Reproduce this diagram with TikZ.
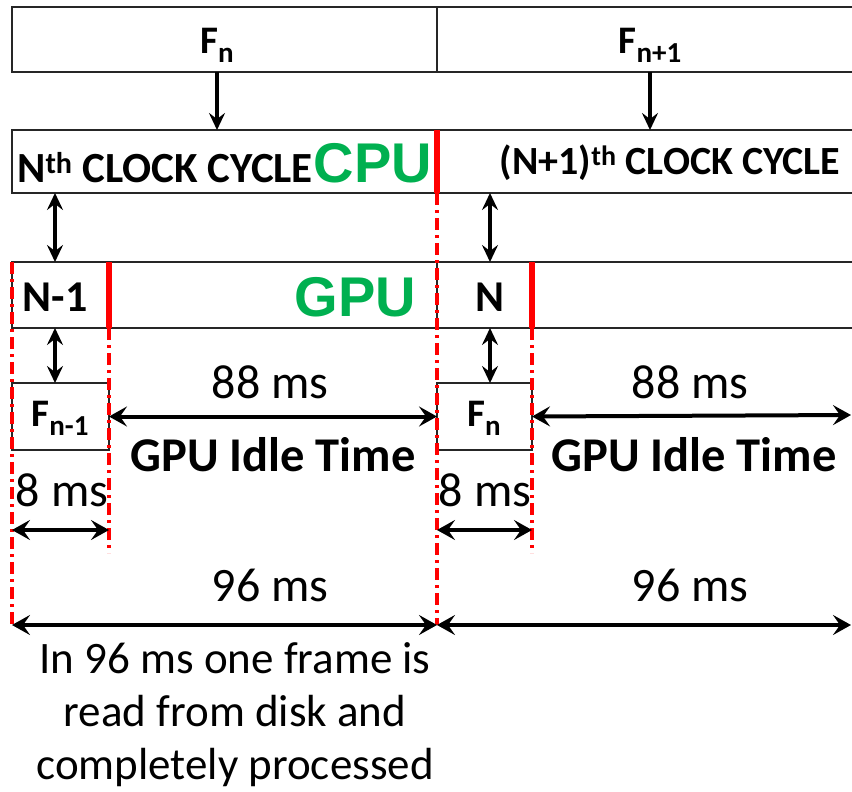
\documentclass[tikz,border=0pt]{standalone}
\usepackage{fontspec}
\setmainfont{Carlito}
\newfontfamily\unitfont{Liberation Sans}
\usetikzlibrary{arrows.meta}

\definecolor{puGreen}{RGB}{0,176,80}
\definecolor{slotRed}{RGB}{255,0,0}
\newcommand{\puText}[1]{{\fontsize{56}{60}\unitfont\bfseries\color{puGreen}#1}}
\newcommand{\lowSub}[1]{\raisebox{-9pt}{\fontsize{29}{30}\selectfont #1}}

\begin{document}
\begin{tikzpicture}[x=1pt, y=-1pt,
    tbox/.style={draw=black!85, line width=2.3pt, anchor=north west,
                 inner sep=0pt, outer sep=0pt},
    lbl/.style={font=\fontsize{39}{44}\selectfont\bfseries, inner sep=0pt},
    msl/.style={font=\fontsize{48}{56}\selectfont, inner sep=0pt},
    idle/.style={font=\fontsize{48.5}{56}\selectfont\bfseries, inner sep=0pt},
    darr/.style={line width=3.2pt, {Stealth[length=17pt,width=16pt,inset=6pt]}-{Stealth[length=17pt,width=16pt,inset=6pt]}},
    sarr/.style={line width=3.2pt, -{Stealth[length=17pt,width=16pt,inset=6pt]}},
    harr/.style={line width=4pt, {Stealth[length=18pt,width=20pt,inset=7pt]}-{Stealth[length=18pt,width=20pt,inset=7pt]}},
    slot/.style={slotRed, line width=6.5pt},
    tmark/.style={slotRed, line width=3.6pt, dash pattern=on 12pt off 5pt on 3pt off 5pt}
]
    \useasboundingbox (0,0) rectangle (852,792);

    % frames read from disk
    \node[tbox, minimum width=425pt, minimum height=65pt] (fA) at (12,7) {};
    \node[tbox, minimum width=430pt, minimum height=65pt] (fB) at (437,7) {};
    \node[lbl] (fnA) at (217,45) {F\lowSub{n}};
    \node[lbl] (fnB) at (650,45) {F\lowSub{n+1}};

    % CPU clock cycles
    \node[tbox, minimum width=425pt, minimum height=63pt] (cA) at (12,130) {};
    \node[tbox, minimum width=430pt, minimum height=63pt] (cB) at (437,130) {};
    \node[lbl, font=\fontsize{43}{46}\selectfont\bfseries, anchor=west] (ccA) at (17,163)
        {N\textsuperscript{th} CLOCK CYCLE\hspace{1pt}\puText{CPU}};
    \node[lbl, font=\fontsize{40}{44}\selectfont\bfseries] (ccB) at (670,163)
        {(N+1)\textsuperscript{th} CLOCK CYCLE};

    % GPU slots
    \node[tbox, minimum width=425pt, minimum height=66pt] (gA) at (12,262) {};
    \node[tbox, minimum width=430pt, minimum height=66pt] (gB) at (437,262) {};
    \node[lbl, font=\fontsize{44}{48}\selectfont\bfseries] (nA) at (55,297) {N-1};
    \node[lbl, font=\fontsize{44}{48}\selectfont\bfseries] (nB) at (490,297) {N};
    \node[inner sep=0pt, anchor=east] (gpu) at (416,297) {\puText{GPU}};

    % processed frames
    \node[tbox, minimum width=97pt, minimum height=67pt] (sA) at (12,383) {};
    \node[tbox, minimum width=95pt, minimum height=67pt] (sB) at (437,383) {};
    \node[lbl] (pA) at (60,418) {F\lowSub{n-1}};
    \node[lbl] (pB) at (484,418) {F\lowSub{n}};

    % red slot ends
    \draw[slot] (cA.north east) -- (cA.south east);
    \draw[slot] (sA.east |- gA.north) -- (sA.east |- gA.south);
    \draw[slot] (sB.east |- gB.north) -- (sB.east |- gB.south);

    % timing marks
    \coordinate (m0) at (12,625);
    \coordinate (m1) at (109,553);
    \coordinate (m2) at (437,625);
    \coordinate (m3) at (532,553);
    \coordinate (rE) at (851,415);
    \coordinate (rT) at (851,625);
    \draw[tmark] (gA.north west) -- (m0);
    \draw[tmark] (sA.east |- gA.south) -- (m1);
    \draw[tmark] (cA.south east) -- (m2);
    \draw[tmark] (sB.east |- gB.south) -- (m3);

    % transfers
    \draw[sarr] (fnA |- fA.south) -- (fnA |- cA.north);
    \draw[sarr] (fnB |- fB.south) -- (fnB |- cB.north);
    \draw[darr] (nA |- cA.south) -- (nA |- gA.north);
    \draw[darr] (nB |- cB.south) -- (nB |- gB.north);
    \draw[darr] (nA |- gA.south) -- (nA |- sA.north);
    \draw[darr] (nB |- gB.south) -- (nB |- sB.north);

    % idle time
    \node[msl] (tA) at (270,382) {88 ms};
    \node[msl] (tB) at (690,382) {88 ms};
    \draw[harr] (sA.east) -- (sB.west);
    \draw[harr] (sB.east) -- (rE);
    \node[idle] (iA) at (273,455) {GPU Idle Time};
    \node[idle] (iB) at (694,455) {GPU Idle Time};

    % processing time
    \node[msl] (kA) at (62,490) {8 ms};
    \node[msl] (kB) at (485,490) {8 ms};
    \draw[harr] (m0 |- 0,530) -- (m1 |- 0,530);
    \draw[harr] (m2 |- 0,530) -- (m3 |- 0,530);

    % whole cycle
    \node[msl] (wA) at (270,585) {96 ms};
    \node[msl] (wB) at (690,585) {96 ms};
    \draw[harr] (m0) -- (m2);
    \draw[harr] (m2) -- (rT);

    \node[font=\fontsize{45}{53}\selectfont, align=center, inner sep=0pt] (note) at (235,715)
        {In 96 ms one frame is\\read from disk and\\completely processed};
\end{tikzpicture}
\end{document}
